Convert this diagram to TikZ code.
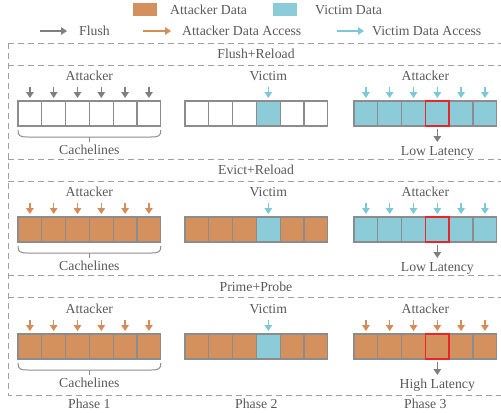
\documentclass[tikz,border=0pt]{standalone}
\usepackage{fontspec}
\setmainfont{Liberation Serif}
\usetikzlibrary{arrows.meta,calc}
\definecolor{txt}{HTML}{595959}
\definecolor{cellgray}{HTML}{8C8C8C}
\definecolor{dashgray}{HTML}{A0A0A0}
\definecolor{orangef}{HTML}{D4915E}
\definecolor{cyanf}{HTML}{8BCCD8}
\definecolor{arrgray}{HTML}{7F7F7F}
\definecolor{arrorange}{HTML}{D48C58}
\definecolor{arrcyan}{HTML}{7CC8D6}
\definecolor{redb}{HTML}{E8262A}
\tikzset{
  cell/.style={draw=cellgray, line width=1.1bp, minimum width=23.8bp, minimum height=25bp,
    inner sep=0pt, outer sep=0pt, anchor=north west},
  redcell/.style={draw=redb, line width=1.7bp, minimum width=23.8bp, minimum height=25bp,
    inner sep=0pt, outer sep=0pt, anchor=north west},
  lbl/.style={text=txt, inner sep=0pt, text depth=0pt, font=\fontsize{13.8}{16}\selectfont},
  arr/.style={line width=1.3bp, -{Triangle[width=7.5bp,length=6bp]}},
  dashline/.style={draw=dashgray, line width=0.9bp, dash pattern=on 6bp off 4bp},
  bracestyle/.style={draw=cellgray, line width=1bp},
}
\begin{document}
\begin{tikzpicture}[x=1bp,y=-1bp]
\useasboundingbox (0,0) rectangle (501,412);
% legend
\node[fill=orangef, minimum width=24bp, minimum height=13bp, inner sep=0pt] (swa) at (145,9.5) {};
\node[lbl, anchor=west] (lga) at (170,10) {Attacker Data};
\node[fill=cyanf, minimum width=24bp, minimum height=13bp, inner sep=0pt] (swv) at (285,9.5) {};
\node[lbl, anchor=west] (lgv) at (315,10) {Victim Data};
\coordinate (fa) at (40,31); \coordinate (fb) at (67,31);
\draw[arr, arrgray] (fa) -- (fb);
\node[lbl, anchor=west] (lgf) at (79,31) {Flush};
\coordinate (oa) at (143,31); \coordinate (ob) at (171,31);
\draw[arr, arrorange] (oa) -- (ob);
\node[lbl, anchor=west] (lgo) at (182,31) {Attacker Data Access};
\coordinate (ca) at (337,31); \coordinate (cb) at (364,31);
\draw[arr, arrcyan] (ca) -- (cb);
\node[lbl, anchor=west] (lgc) at (372,31) {Victim Data Access};
% frame
\draw[dashline] (8,43) rectangle (504,395);
\foreach \yy in {65,159,181,275,297} { \draw[dashline] (8,\yy) -- (504,\yy); }
\node[lbl] (t1) at (256,54) {Flush+Reload};
\node[lbl] (t2) at (256,170) {Evict+Reload};
\node[lbl] (t3) at (256,287) {Prime+Probe};
% rows
\foreach \rw/\t/\fa/\aa/\fb/\fc/\ac/\lat in {
  1/101/white/arrgray/white/cyanf/arrcyan/Low Latency,
  2/217/orangef/arrorange/orangef/cyanf/arrcyan/Low Latency,
  3/334/orangef/arrorange/orangef/orangef/arrorange/High Latency} {
  \foreach \i in {1,...,6} {
    \node[cell, fill=\fa] (r\rw a\i) at ({18+(\i-1)*23.8},\t) {};
    \node[cell, fill=\fb] (r\rw b\i) at ({185+(\i-1)*23.8},\t) {};
    \node[cell, fill=\fc] (r\rw c\i) at ({354+(\i-1)*23.8},\t) {};
    \draw[arr, \aa] ([yshift=14bp]r\rw a\i.north) -- ([yshift=3bp]r\rw a\i.north);
    \draw[arr, \ac] ([yshift=14bp]r\rw c\i.north) -- ([yshift=3bp]r\rw c\i.north);
  }
  \node[cell, fill=cyanf] (r\rw bv) at ({185+3*23.8},\t) {};
  \draw[arr, arrcyan] ([yshift=14bp]r\rw bv.north) -- ([yshift=3bp]r\rw bv.north);
  \node[redcell] (r\rw cr) at ({354+3*23.8},\t) {};
  \draw[arr, arrgray] ([yshift=-3bp]r\rw cr.south) -- ([yshift=-16bp]r\rw cr.south);
  \node[lbl] (lat\rw) at ({354+3.5*23.8},{\t+50}) {\lat};
  \node[lbl] (att\rw) at ({18+3*23.8},{\t-25}) {Attacker};
  \node[lbl] (vic\rw) at ({185+3.5*23.8},{\t-25}) {Victim};
  \node[lbl] (atc\rw) at ({354+3*23.8},{\t-25}) {Attacker};
  % brace
  \draw[bracestyle] ($(r\rw a1.south west)+(0,4)$) .. controls +(0,6) and +(-8,0) .. ($(r\rw a1.south west)+(10,11)$)
     -- ($(r\rw a6.south east)+(-10,11)$) .. controls +(8,0) and +(0,6) .. ($(r\rw a6.south east)+(0,4)$);
  \draw[bracestyle] ($(r\rw a3.south east)+(0,11)$) -- ($(r\rw a3.south east)+(0,16)$);
  \node[lbl] (cl\rw) at ({18+3*23.8},{\t+49}) {Cachelines};
}
\node[lbl] (ph1) at (89.4,404) {Phase 1};
\node[lbl] (ph2) at (256.4,404) {Phase 2};
\node[lbl] (ph3) at (425.4,404) {Phase 3};
\end{tikzpicture}
\end{document}
